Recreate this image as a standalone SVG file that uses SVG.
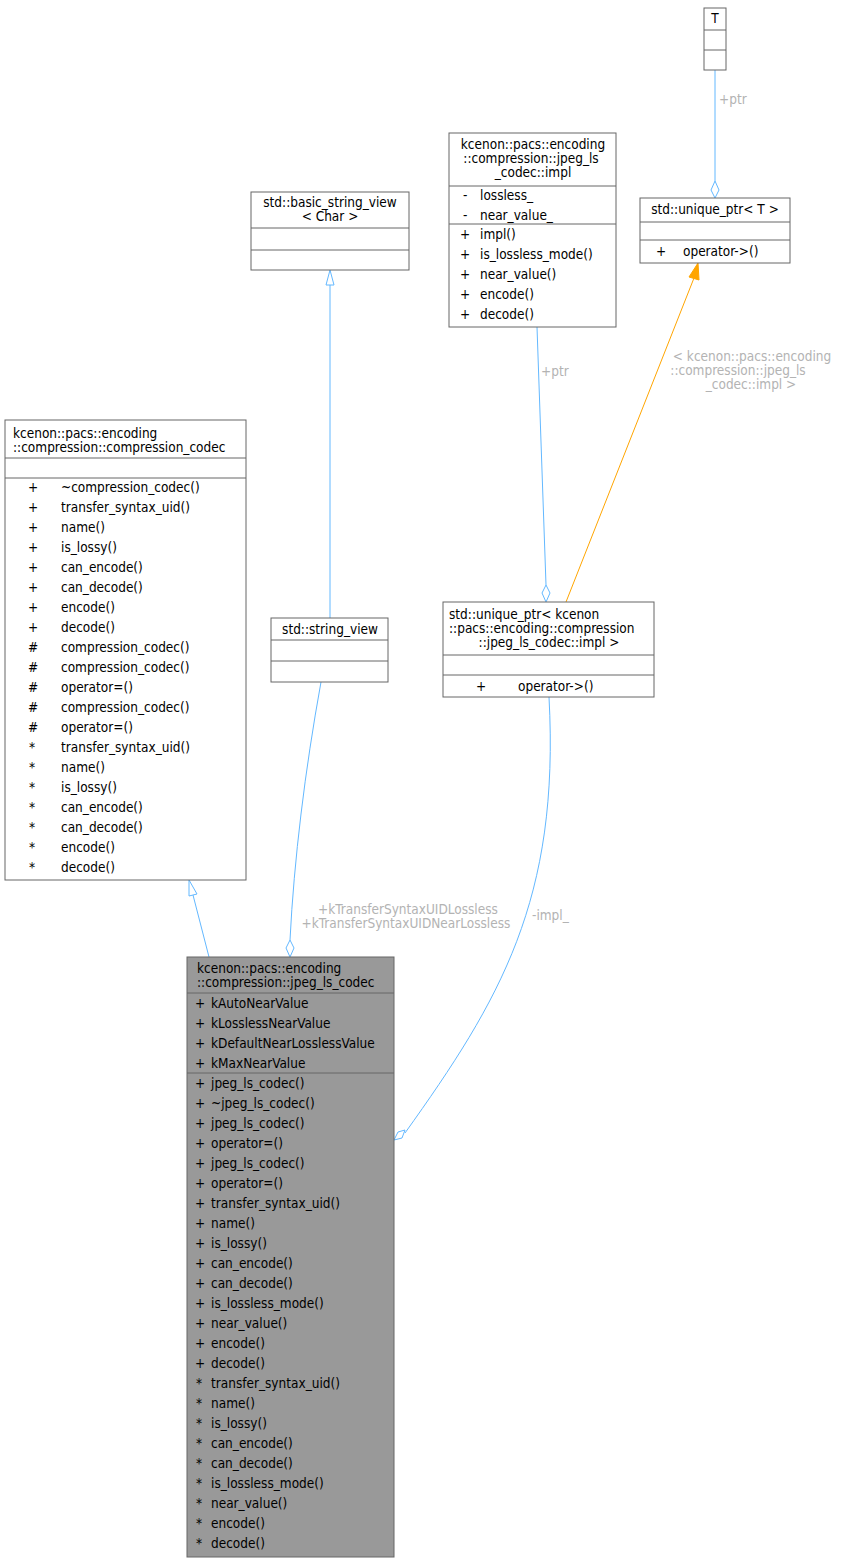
<svg xmlns="http://www.w3.org/2000/svg" width="843" height="1563" viewBox="0 0 843 1563">
<style>
text{font-family:"DejaVu Sans Condensed","DejaVu Sans",sans-serif;font-size:13.5px;fill:#000}
.box{fill:#fff;stroke:#666;stroke-width:1}
.sel{fill:#999;stroke:#666;stroke-width:1}
.ln{stroke:#666;stroke-width:1}
.e{fill:none;stroke:#63b8ff;stroke-width:1}
.o{fill:none;stroke:#ffa500;stroke-width:1}
.lbl{fill:#b3b3b3}
.m{text-anchor:middle}
</style>
<rect width="843" height="1563" fill="#fff"/>
<g id="connectors">
<path class="e" d="M715,70 V181"/>
<polygon points="715,181 719,190 715,198 711,190" fill="#fff" stroke="#63b8ff"/>
<text class="lbl" x="719" y="104">+ptr</text>
<path class="e" d="M537,327 L546,585"/>
<polygon points="546,585 550,593 546,602 542,593" fill="#fff" stroke="#63b8ff"/>
<text class="lbl" x="541" y="376">+ptr</text>
<path class="o" d="M566,602 L694,278"/>
<polygon points="698,263 699,280 689,277" fill="#ffa500" stroke="#ffa500"/>
<text class="lbl m" x="752" y="361">&lt; kcenon::pacs::encoding</text>
<text class="lbl m" x="738" y="375">::compression::jpeg_ls</text>
<text class="lbl m" x="751" y="389">_codec::impl &gt;</text>
<path class="e" d="M330,618 V285"/>
<polygon points="330,270 334,285 326,285" fill="#fff" stroke="#63b8ff"/>
<path class="e" d="M209,957 L193,895"/>
<polygon points="189,880 197,894 189,896" fill="#fff" stroke="#63b8ff"/>
<path class="e" d="M321,682 C305,770 294,860 290,940"/>
<polygon points="290,940 294,948 290,957 286,948" fill="#fff" stroke="#63b8ff"/>
<text class="lbl m" x="408" y="914">+kTransferSyntaxUIDLossless</text>
<text class="lbl m" x="406" y="928">+kTransferSyntaxUIDNearLossless</text>
<path class="e" d="M549,697 C560,900 500,1000 405,1133"/>
<polygon points="394,1140 398,1132 405,1130 402,1138" fill="#fff" stroke="#63b8ff"/>
<text class="lbl" x="532" y="920">-impl_</text>
</g>
<g id="T">
<rect class="box" x="704" y="8" width="22" height="62"/>
<line class="ln" x1="704" y1="30" x2="726" y2="30"/><line class="ln" x1="704" y1="50" x2="726" y2="50"/>
<text class="m" x="715" y="23">T</text>
</g>
<g id="unique_ptr_T">
<rect class="box" x="640" y="198" width="150" height="65"/>
<line class="ln" x1="640" y1="222" x2="790" y2="222"/><line class="ln" x1="640" y1="240" x2="790" y2="240"/>
<text class="m" x="715" y="214">std::unique_ptr&lt; T &gt;</text>
<text x="656" y="256">+</text><text x="683" y="256">operator-&gt;()</text>
</g>
<g id="impl">
<rect class="box" x="449" y="133" width="167" height="194"/>
<line class="ln" x1="449" y1="186" x2="616" y2="186"/><line class="ln" x1="449" y1="224" x2="616" y2="224"/>
<text class="m" x="533" y="149">kcenon::pacs::encoding</text>
<text class="m" x="531" y="163">::compression::jpeg_ls</text>
<text class="m" x="533" y="177">_codec::impl</text>
<text x="463" y="200">-</text><text x="480" y="200">lossless_</text>
<text x="463" y="220">-</text><text x="480" y="220">near_value_</text>
<g>
<text x="460" y="239">+</text><text x="480" y="239">impl()</text>
<text x="460" y="259">+</text><text x="480" y="259">is_lossless_mode()</text>
<text x="460" y="279">+</text><text x="480" y="279">near_value()</text>
<text x="460" y="299">+</text><text x="480" y="299">encode()</text>
<text x="460" y="319">+</text><text x="480" y="319">decode()</text>
</g>
</g>
<g id="basic_string_view">
<rect class="box" x="251" y="192" width="158" height="78"/>
<line class="ln" x1="251" y1="228" x2="409" y2="228"/><line class="ln" x1="251" y1="250" x2="409" y2="250"/>
<text class="m" x="330" y="207">std::basic_string_view</text>
<text class="m" x="330" y="221">&lt; Char &gt;</text>
</g>
<g id="string_view">
<rect class="box" x="271" y="618" width="117" height="64"/>
<line class="ln" x1="271" y1="640" x2="388" y2="640"/><line class="ln" x1="271" y1="661" x2="388" y2="661"/>
<text class="m" x="330" y="634">std::string_view</text>
</g>
<g id="unique_ptr_impl">
<rect class="box" x="443" y="602" width="211" height="95"/>
<line class="ln" x1="443" y1="655" x2="654" y2="655"/><line class="ln" x1="443" y1="675" x2="654" y2="675"/>
<text x="449" y="619">std::unique_ptr&lt; kcenon</text>
<text x="449" y="633">::pacs::encoding::compression</text>
<text class="m" x="549" y="647">::jpeg_ls_codec::impl &gt;</text>
<text x="476" y="691">+</text><text x="518" y="691">operator-&gt;()</text>
</g>
<g id="compression_codec">
<rect class="box" x="5" y="420" width="241" height="460"/>
<line class="ln" x1="5" y1="458" x2="246" y2="458"/><line class="ln" x1="5" y1="478" x2="246" y2="478"/>
<text x="13" y="438">kcenon::pacs::encoding</text>
<text x="13" y="452">::compression::compression_codec</text>
<g>
<text x="28" y="492">+</text><text x="61" y="492">~compression_codec()</text>
<text x="28" y="512">+</text><text x="61" y="512">transfer_syntax_uid()</text>
<text x="28" y="532">+</text><text x="61" y="532">name()</text>
<text x="28" y="552">+</text><text x="61" y="552">is_lossy()</text>
<text x="28" y="572">+</text><text x="61" y="572">can_encode()</text>
<text x="28" y="592">+</text><text x="61" y="592">can_decode()</text>
<text x="28" y="612">+</text><text x="61" y="612">encode()</text>
<text x="28" y="632">+</text><text x="61" y="632">decode()</text>
<text x="28" y="652">#</text><text x="61" y="652">compression_codec()</text>
<text x="28" y="672">#</text><text x="61" y="672">compression_codec()</text>
<text x="28" y="692">#</text><text x="61" y="692">operator=()</text>
<text x="28" y="712">#</text><text x="61" y="712">compression_codec()</text>
<text x="28" y="732">#</text><text x="61" y="732">operator=()</text>
<text x="29" y="752">*</text><text x="61" y="752">transfer_syntax_uid()</text>
<text x="29" y="772">*</text><text x="61" y="772">name()</text>
<text x="29" y="792">*</text><text x="61" y="792">is_lossy()</text>
<text x="29" y="812">*</text><text x="61" y="812">can_encode()</text>
<text x="29" y="832">*</text><text x="61" y="832">can_decode()</text>
<text x="29" y="852">*</text><text x="61" y="852">encode()</text>
<text x="29" y="872">*</text><text x="61" y="872">decode()</text>
</g>
</g>
<g id="jpeg_ls_codec">
<rect class="sel" x="187" y="957" width="207" height="600"/>
<line class="ln" x1="187" y1="993" x2="394" y2="993"/><line class="ln" x1="187" y1="1073" x2="394" y2="1073"/>
<text x="197" y="973">kcenon::pacs::encoding</text>
<text x="197" y="987">::compression::jpeg_ls_codec</text>
<g>
<text x="195" y="1008">+</text><text x="211" y="1008">kAutoNearValue</text>
<text x="195" y="1028">+</text><text x="211" y="1028">kLosslessNearValue</text>
<text x="195" y="1048">+</text><text x="211" y="1048">kDefaultNearLosslessValue</text>
<text x="195" y="1068">+</text><text x="211" y="1068">kMaxNearValue</text>
</g>
<g>
<text x="195" y="1088">+</text><text x="211" y="1088">jpeg_ls_codec()</text>
<text x="195" y="1108">+</text><text x="211" y="1108">~jpeg_ls_codec()</text>
<text x="195" y="1128">+</text><text x="211" y="1128">jpeg_ls_codec()</text>
<text x="195" y="1148">+</text><text x="211" y="1148">operator=()</text>
<text x="195" y="1168">+</text><text x="211" y="1168">jpeg_ls_codec()</text>
<text x="195" y="1188">+</text><text x="211" y="1188">operator=()</text>
<text x="195" y="1208">+</text><text x="211" y="1208">transfer_syntax_uid()</text>
<text x="195" y="1228">+</text><text x="211" y="1228">name()</text>
<text x="195" y="1248">+</text><text x="211" y="1248">is_lossy()</text>
<text x="195" y="1268">+</text><text x="211" y="1268">can_encode()</text>
<text x="195" y="1288">+</text><text x="211" y="1288">can_decode()</text>
<text x="195" y="1308">+</text><text x="211" y="1308">is_lossless_mode()</text>
<text x="195" y="1328">+</text><text x="211" y="1328">near_value()</text>
<text x="195" y="1348">+</text><text x="211" y="1348">encode()</text>
<text x="195" y="1368">+</text><text x="211" y="1368">decode()</text>
<text x="196" y="1388">*</text><text x="211" y="1388">transfer_syntax_uid()</text>
<text x="196" y="1408">*</text><text x="211" y="1408">name()</text>
<text x="196" y="1428">*</text><text x="211" y="1428">is_lossy()</text>
<text x="196" y="1448">*</text><text x="211" y="1448">can_encode()</text>
<text x="196" y="1468">*</text><text x="211" y="1468">can_decode()</text>
<text x="196" y="1488">*</text><text x="211" y="1488">is_lossless_mode()</text>
<text x="196" y="1508">*</text><text x="211" y="1508">near_value()</text>
<text x="196" y="1528">*</text><text x="211" y="1528">encode()</text>
<text x="196" y="1548">*</text><text x="211" y="1548">decode()</text>
</g>
</g>
</svg>
